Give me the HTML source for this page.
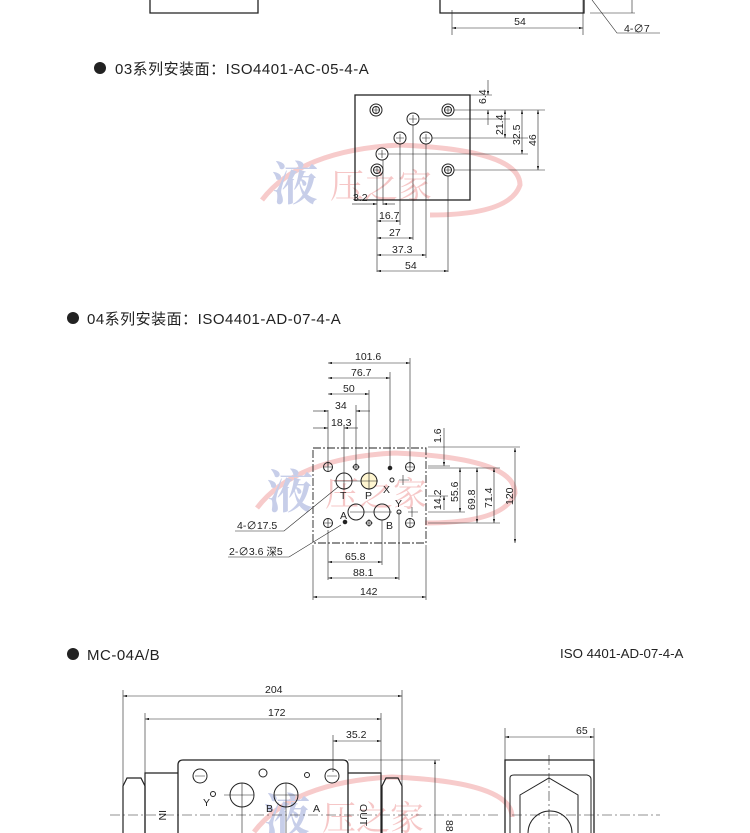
<!DOCTYPE html>
<html><head><meta charset="utf-8"><style>
html,body{margin:0;padding:0;background:#fff;}
svg{display:block;font-family:"Liberation Sans","Noto Sans CJK SC",sans-serif;}
.t{font-size:10.5px;fill:#222;}
.h{font-size:15px;fill:#222;letter-spacing:0.5px;}
</style></head><body>
<svg width="750" height="833" viewBox="0 0 750 833" xmlns="http://www.w3.org/2000/svg">
<defs>
<marker id="a" viewBox="0 0 10 6" refX="10" refY="3" markerWidth="8" markerHeight="4" orient="auto-start-reverse"><path d="M0,0L10,3L0,6z" fill="#222"/></marker>
</defs>
<g opacity="0.55">
<g transform="translate(0,0)">
<path d="M262,200 Q300,150 400,145 Q520,150 520,185 Q510,215 430,215" fill="none" stroke="#f0a0a0" stroke-width="5"/>
<text x="272" y="200" font-size="46" font-weight="bold" fill="#9aa6d8" font-family="Liberation Serif,Noto Serif CJK SC,serif">液</text>
<text x="330" y="198" font-size="34" fill="#ee9a9a" font-family="Noto Serif CJK SC,serif">压之家</text>
</g>
<g transform="translate(-5,308)">
<path d="M262,200 Q300,150 400,145 Q520,150 520,185 Q510,215 430,215" fill="none" stroke="#f0a0a0" stroke-width="5"/>
<text x="272" y="200" font-size="46" font-weight="bold" fill="#9aa6d8" font-family="Liberation Serif,Noto Serif CJK SC,serif">液</text>
<text x="330" y="198" font-size="34" fill="#ee9a9a" font-family="Noto Serif CJK SC,serif">压之家</text>
</g>
<g transform="translate(-8,632)">
<path d="M262,200 Q300,150 400,145 Q520,150 520,185" fill="none" stroke="#f0a0a0" stroke-width="5"/>
<text x="272" y="200" font-size="46" font-weight="bold" fill="#9aa6d8" font-family="Liberation Serif,Noto Serif CJK SC,serif">液</text>
<text x="330" y="198" font-size="34" fill="#ee9a9a" font-family="Noto Serif CJK SC,serif">压之家</text>
</g>
</g>

<g stroke="#222" fill="none" stroke-width="1">
<path d="M150,0V13H258V0" stroke-width="1.3"/>
<path d="M440,0V13H584V0" stroke-width="1.3"/>
<path d="M452,10V35M583,0V35" stroke-width="0.6"/>
<line x1="452" y1="28" x2="583" y2="28" stroke-width="0.6" marker-start="url(#a)" marker-end="url(#a)"/>
<path d="M592,0L617,33H660" stroke-width="0.6"/>
<path d="M590,13H635M632,0V13" stroke-width="0.6"/>
</g>
<text class="t" x="520" y="25" text-anchor="middle">54</text>
<text class="t" x="624" y="32">4-∅7</text>

<circle cx="100" cy="68" r="6" fill="#222"/>
<text class="h" x="115" y="74">03系列安装面：ISO4401-AC-05-4-A</text>

<g stroke="#222" fill="none">
<rect x="355" y="95" width="115" height="105" stroke-width="1.3"/>
<g stroke-width="1">
<circle cx="376" cy="110" r="6"/><circle cx="376" cy="110" r="3.5"/>
<circle cx="448" cy="110" r="6"/><circle cx="448" cy="110" r="3.5"/>
<circle cx="377" cy="170" r="6"/><circle cx="377" cy="170" r="3.5"/>
<circle cx="448" cy="170" r="6"/><circle cx="448" cy="170" r="3.5"/>
<circle cx="413" cy="119" r="6"/><circle cx="400" cy="138" r="6"/><circle cx="426" cy="138" r="6"/><circle cx="382" cy="154" r="6"/>
</g>
<g stroke-width="0.6">
<path d="M409,119h8M413,115v8M396,138h8M400,134v8M422,138h8M426,134v8M378,154h8M382,150v8M373,170h8M377,166v8M444,170h8M448,166v8M444,110h8M448,106v8M372,110h8M376,106v8"/>
<path d="M454,110H545M420,119H510M432,138H528M388,154H528M454,170H545M470,95H492"/>
<path d="M377,176V272M400,144V225M413,125V240M426,144V258M448,176V272M383,160V205"/>
<line x1="488" y1="80" x2="488" y2="95" marker-end="url(#a)"/>
<line x1="488" y1="125" x2="488" y2="110" marker-end="url(#a)"/>
<line x1="505" y1="110" x2="505" y2="138" marker-start="url(#a)" marker-end="url(#a)"/>
<line x1="522" y1="110" x2="522" y2="154" marker-start="url(#a)" marker-end="url(#a)"/>
<line x1="538" y1="110" x2="538" y2="170" marker-start="url(#a)" marker-end="url(#a)"/>
<path d="M352,204H366"/>
<line x1="366" y1="204" x2="377" y2="204" marker-end="url(#a)"/>
<line x1="395" y1="204" x2="383" y2="204" marker-end="url(#a)"/>
<line x1="377" y1="221" x2="400" y2="221" marker-start="url(#a)" marker-end="url(#a)"/>
<line x1="377" y1="238" x2="413" y2="238" marker-start="url(#a)" marker-end="url(#a)"/>
<line x1="377" y1="255" x2="426" y2="255" marker-start="url(#a)" marker-end="url(#a)"/>
<line x1="377" y1="271" x2="448" y2="271" marker-start="url(#a)" marker-end="url(#a)"/>
</g>
</g>
<g class="t">
<text transform="translate(486,104) rotate(-90)">6.4</text>
<text transform="translate(503,135) rotate(-90)">21.4</text>
<text transform="translate(520,145) rotate(-90)">32.5</text>
<text transform="translate(536,146) rotate(-90)">46</text>
<text x="353" y="201">3.2</text>
<text x="379" y="219">16.7</text>
<text x="389" y="236">27</text>
<text x="392" y="253">37.3</text>
<text x="405" y="269">54</text>
</g>

<circle cx="73" cy="318" r="6" fill="#222"/>
<text class="h" x="87" y="324">04系列安装面：ISO4401-AD-07-4-A</text>

<g stroke="#222" fill="none">
<rect x="313" y="448" width="113" height="95" stroke-width="0.9" stroke-dasharray="8,2,2,2"/>
<g stroke-width="1">
<circle cx="328" cy="467" r="4.5"/><circle cx="410" cy="467" r="4.5"/><circle cx="328" cy="523" r="4.5"/><circle cx="410" cy="523" r="4.5"/>
<circle cx="344" cy="481" r="8"/><circle cx="369" cy="481" r="8" fill="#fff6d0"/>
<circle cx="356" cy="512" r="8"/><circle cx="382" cy="512" r="8"/>
<circle cx="356" cy="467" r="2.5"/><circle cx="369" cy="523" r="2.5"/>
<circle cx="392" cy="480" r="2"/><circle cx="399" cy="512" r="2"/>
</g>
<g stroke-width="0.6">
<path d="M323,467h10M328,462v10M405,467h10M410,462v10M323,523h10M328,518v10M405,523h10M410,518v10M352,467h8M356,463v8M365,523h8M369,519v8M399,480h10M403,475v10M408,512h10M412,507v10"/>
<path d="M334,481h44M350,512h42M344,425V490M356,405V467M369,390V490M390,372V468M410,358V467M328,410V467M382,520V565M399,512V580M328,530V580M313,545V600M426,545V600"/>
<line x1="328" y1="363" x2="410" y2="363" marker-start="url(#a)" marker-end="url(#a)"/>
<line x1="328" y1="378" x2="390" y2="378" marker-start="url(#a)" marker-end="url(#a)"/>
<line x1="328" y1="394" x2="369" y2="394" marker-start="url(#a)" marker-end="url(#a)"/>
<line x1="313" y1="411" x2="328" y2="411" marker-end="url(#a)"/>
<line x1="370" y1="411" x2="356" y2="411" marker-end="url(#a)"/>
<line x1="313" y1="428" x2="328" y2="428" marker-end="url(#a)"/>
<line x1="358" y1="428" x2="344" y2="428" marker-end="url(#a)"/>
<path d="M428,447H520M428,466H450M428,468H500M428,496H448M428,512H465M428,523H500"/>
<line x1="444" y1="428" x2="444" y2="466" marker-end="url(#a)"/>
<line x1="444" y1="510" x2="444" y2="496" marker-end="url(#a)"/>
<line x1="460" y1="468" x2="460" y2="512" marker-start="url(#a)" marker-end="url(#a)"/>
<line x1="477" y1="468" x2="477" y2="523" marker-start="url(#a)" marker-end="url(#a)"/>
<line x1="494" y1="468" x2="494" y2="523" marker-start="url(#a)" marker-end="url(#a)"/>
<line x1="515" y1="448" x2="515" y2="543" marker-start="url(#a)" marker-end="url(#a)"/>
<line x1="328" y1="562" x2="382" y2="562" marker-start="url(#a)" marker-end="url(#a)"/>
<line x1="328" y1="578" x2="399" y2="578" marker-start="url(#a)" marker-end="url(#a)"/>
<line x1="313" y1="597" x2="426" y2="597" marker-start="url(#a)" marker-end="url(#a)"/>
<path d="M235,531H284L338,487M228,557H289L341,525"/>
</g>
<circle cx="390" cy="468" r="1.8" fill="#222"/><circle cx="345" cy="522" r="1.8" fill="#222"/>
</g>
<g class="t">
<text x="355" y="360">101.6</text><text x="351" y="376">76.7</text><text x="343" y="392">50</text>
<text x="335" y="409">34</text><text x="331" y="426">18.3</text>
<text x="340" y="499">T</text><text x="365" y="499">P</text><text x="383" y="493">X</text>
<text x="395" y="507">Y</text><text x="340" y="519">A</text><text x="386" y="529">B</text>
<text transform="translate(441,443) rotate(-90)">1.6</text>
<text transform="translate(441,510) rotate(-90)">14.2</text>
<text transform="translate(458,502) rotate(-90)">55.6</text>
<text transform="translate(475,510) rotate(-90)">69.8</text>
<text transform="translate(492,508) rotate(-90)">71.4</text>
<text transform="translate(513,505) rotate(-90)">120</text>
<text x="345" y="560">65.8</text><text x="353" y="576">88.1</text><text x="360" y="595">142</text>
<text x="237" y="529">4-∅17.5</text><text x="229" y="555">2-∅3.6 深5</text>
</g>

<circle cx="73" cy="654" r="6" fill="#222"/>
<text class="h" x="87" y="660">MC-04A/B</text>
<text x="560" y="658" style="font-size:13.3px;fill:#222">ISO 4401-AD-07-4-A</text>

<g stroke="#222" fill="none">
<path d="M178,833V765Q178,760 183,760H343Q348,760 348,765V833" stroke-width="1.3"/>
<path d="M145,833V773H178M348,773H381V833" stroke-width="1.2"/>
<path d="M123,833V786L127,778H141L145,786V833M382,833V786L386,778H398L402,786V833" stroke-width="1.2"/>
<path d="M505,833V760H594V833" stroke-width="1.3"/>
<path d="M510,833V778Q510,775 514,775H587Q591,776 591,779V833" stroke-width="1"/>
<path d="M520,833V795L549,778L578,795V833" stroke-width="1"/>
<path d="M528,833A22,22 0 0 1 572,833" stroke-width="1"/>
<g stroke-width="1">
<circle cx="200" cy="776" r="7"/><circle cx="332" cy="776" r="7"/>
<circle cx="263" cy="773" r="4"/><circle cx="307" cy="775" r="2.5"/><circle cx="213" cy="794" r="2.5"/>
<circle cx="242" cy="795" r="12"/><circle cx="286" cy="795" r="12"/>
</g>
<g stroke-width="0.6">
<path d="M195,776h10M327,776h10M230,795h24M242,783v50M274,795h24M286,783v50M224,795h6"/>
<path d="M110,815H500M512,815H660" stroke-dasharray="10,3,2,3"/>
<path d="M549,755V833" stroke-dasharray="10,3,2,3"/>
<path d="M123,690V833M402,690V833M145,713V773M381,713V773M333,735V772M348,760H440M505,728V760M594,728V760"/>
<line x1="123" y1="696" x2="402" y2="696" marker-start="url(#a)" marker-end="url(#a)"/>
<line x1="145" y1="719" x2="381" y2="719" marker-start="url(#a)" marker-end="url(#a)"/>
<line x1="333" y1="741" x2="381" y2="741" marker-start="url(#a)" marker-end="url(#a)"/>
<line x1="505" y1="737" x2="594" y2="737" marker-start="url(#a)" marker-end="url(#a)"/>
<line x1="435" y1="833" x2="435" y2="760" marker-end="url(#a)"/>
</g>
</g>
<g class="t">
<text x="265" y="693">204</text><text x="268" y="716">172</text><text x="346" y="738">35.2</text><text x="576" y="734">65</text>
<text x="203" y="806">Y</text><text x="266" y="812">B</text><text x="313" y="812">A</text>
<text transform="translate(159,810) rotate(90)">IN</text>
<text transform="translate(360,804) rotate(90)">OUT</text>
<text transform="translate(446,820) rotate(90)">88</text>
</g>
</svg>
</body></html>
